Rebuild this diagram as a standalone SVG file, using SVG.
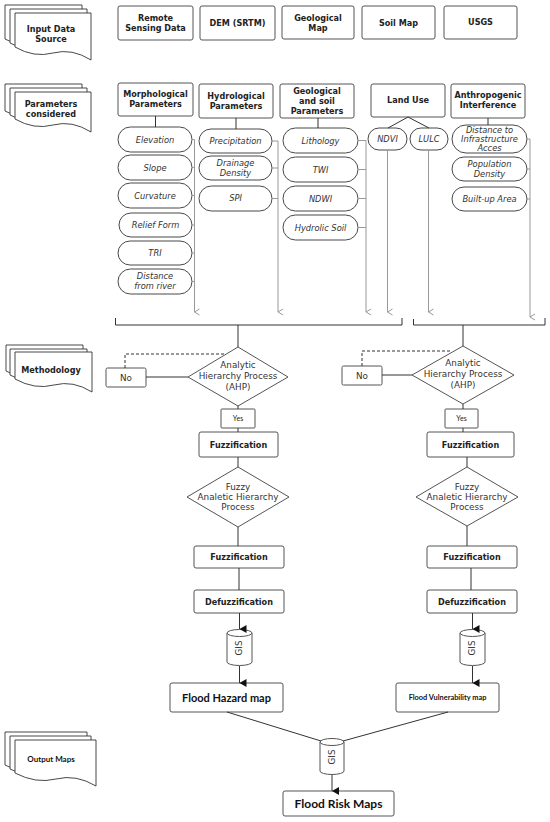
<svg xmlns="http://www.w3.org/2000/svg" width="550" height="822" viewBox="0 0 550 822">
<style>
.bx{fill:#fff;stroke:#555;stroke-width:1}
.pill{fill:#fff;stroke:#333;stroke-width:0.9}
.doc{fill:#fff;stroke:#333;stroke-width:0.9}
.h{font-family:"DejaVu Sans",sans-serif;font-weight:bold;font-size:8.1px;fill:#222;text-anchor:middle}
.it{font-family:"DejaVu Sans",sans-serif;font-style:italic;font-size:8.3px;fill:#333;text-anchor:middle}
.rg{font-family:"DejaVu Sans",sans-serif;font-size:8.8px;fill:#333;text-anchor:middle}
.cb{font-family:Lato,"Liberation Sans",sans-serif;font-weight:bold;fill:#111;text-anchor:middle}
.cl{font-family:Lato,"Liberation Sans",sans-serif;font-size:7px;fill:#222;text-anchor:middle}
.g{stroke:#999;stroke-width:1;fill:none}
.k{stroke:#333;stroke-width:1;fill:none}
.dash{stroke:#333;stroke-width:1;fill:none;stroke-dasharray:3,2}
</style>
<defs>
<marker id="ag" markerWidth="8" markerHeight="8" refX="4" refY="6" orient="auto" markerUnits="userSpaceOnUse" viewBox="0 0 8 8"><path d="M1,1 L4,6 L7,1" fill="none" stroke="#999" stroke-width="1"/></marker>
<marker id="ak" markerWidth="10" markerHeight="10" refX="4.5" refY="8" orient="auto-start-reverse" markerUnits="userSpaceOnUse" viewBox="0 0 10 10"><path d="M0.5,1 L4.5,8 L8.5,1 Z" fill="#111"/></marker>
</defs>
<rect width="550" height="822" fill="#fff"/>

<!-- side documents -->
<g id="doc-input">
<path class="doc" d="M5,5 H82 V52 Q63,40 44,45 T5,39 Z"/>
<path class="doc" d="M10,9 H87 V56 Q68,44 49,49 T10,43 Z"/>
<path class="doc" d="M15,13 H91 V60 Q72,48 53,53 T15,47 Z"/>
<text class="h" x="51" y="32">Input Data</text>
<text class="h" x="51" y="42">Source</text>
</g>
<g id="doc-params">
<path class="doc" d="M5,84 H82 V124 Q63,112 44,117 T5,111 Z"/>
<path class="doc" d="M10,88 H87 V128 Q68,116 49,121 T10,115 Z"/>
<path class="doc" d="M15,92 H91 V132 Q72,120 53,125 T15,119 Z"/>
<text class="h" x="51" y="107">Parameters</text>
<text class="h" x="51" y="117">considered</text>
</g>
<g id="doc-method">
<path class="doc" d="M6,345 H83 V384 Q64,372 45,377 T6,371 Z"/>
<path class="doc" d="M10,349 H87 V388 Q68,376 49,381 T10,375 Z"/>
<path class="doc" d="M15,352 H92 V392 Q73,380 54,385 T15,379 Z"/>
<text class="h" x="51" y="373">Methodology</text>
</g>
<g id="doc-output">
<path class="doc" d="M5,732 H87 V778 Q67,766 46,771 T5,765 Z"/>
<path class="doc" d="M10,736 H91 V782 Q71,770 51,775 T10,769 Z"/>
<path class="doc" d="M15,740 H96 V786 Q76,774 56,779 T15,773 Z"/>
<text class="cb" x="51" y="762" font-size="8">Output Maps</text>
</g>

<!-- sources -->
<g id="src-rs"><rect class="bx" x="118" y="6" width="75" height="34" rx="2"/><text class="h" x="155.5" y="21">Remote</text><text class="h" x="155.5" y="31">Sensing Data</text></g>
<g id="src-dem"><rect class="bx" x="200" y="6" width="75" height="34" rx="2"/><text class="h" x="237.5" y="26">DEM (SRTM)</text></g>
<g id="src-geo"><rect class="bx" x="282" y="6" width="72" height="33" rx="2"/><text class="h" x="318" y="21">Geological</text><text class="h" x="318" y="31">Map</text></g>
<g id="src-soil"><rect class="bx" x="362" y="6" width="73" height="33" rx="2"/><text class="h" x="398.5" y="26">Soil Map</text></g>
<g id="src-usgs"><rect class="bx" x="444" y="6" width="73" height="33" rx="2"/><text class="h" x="480.5" y="25">USGS</text></g>

<!-- parameter categories -->
<g id="cat-morph"><rect class="bx" x="118" y="83" width="75" height="33" rx="2"/><text class="h" x="155.5" y="97">Morphological</text><text class="h" x="155.5" y="107">Parameters</text></g>
<g id="cat-hydro"><rect class="bx" x="199" y="84" width="74" height="34" rx="2"/><text class="h" x="236" y="99">Hydrological</text><text class="h" x="236" y="109">Parameters</text></g>
<g id="cat-geo"><rect class="bx" x="280" y="84" width="74" height="34" rx="2"/><text class="h" x="317" y="94">Geological</text><text class="h" x="317" y="104">and soil</text><text class="h" x="317" y="114">Parameters</text></g>
<g id="cat-landuse"><rect class="bx" x="371" y="84" width="74" height="33" rx="2"/><text class="h" x="408" y="103">Land Use</text></g>
<g id="cat-anthro"><rect class="bx" x="451" y="84" width="74" height="34" rx="2"/><text class="h" x="488" y="98">Anthropogenic</text><text class="h" x="488" y="108">Interference</text></g>

<!-- pills -->
<g id="p-elev"><rect class="pill" x="118" y="127" width="74" height="25" rx="12.5"/><text class="it" x="155" y="142.5">Elevation</text></g>
<g id="p-slope"><rect class="pill" x="118" y="155" width="74" height="25" rx="12.5"/><text class="it" x="155" y="170.5">Slope</text></g>
<g id="p-curv"><rect class="pill" x="118" y="183" width="74" height="25" rx="12.5"/><text class="it" x="155" y="198.5">Curvature</text></g>
<g id="p-relief"><rect class="pill" x="119" y="213" width="73" height="24" rx="12"/><text class="it" x="155.5" y="227.5">Relief Form</text></g>
<g id="p-tri"><rect class="pill" x="118" y="241" width="74" height="24" rx="12"/><text class="it" x="155" y="255.5">TRI</text></g>
<g id="p-dist"><rect class="pill" x="118" y="269" width="74" height="25" rx="12.5"/><text class="it" x="155" y="279">Distance</text><text class="it" x="155" y="289">from river</text></g>

<g id="p-precip"><rect class="pill" x="199" y="129" width="73" height="24" rx="12"/><text class="it" x="235.5" y="143.5">Precipitation</text></g>
<g id="p-drain"><rect class="pill" x="199" y="156" width="73" height="24" rx="12"/><text class="it" x="235.5" y="166">Drainage</text><text class="it" x="235.5" y="176">Density</text></g>
<g id="p-spi"><rect class="pill" x="199" y="186" width="73" height="25" rx="12.5"/><text class="it" x="235.5" y="201">SPI</text></g>

<g id="p-lith"><rect class="pill" x="283" y="128" width="75" height="25" rx="12.5"/><text class="it" x="320.5" y="143.5">Lithology</text></g>
<g id="p-twi"><rect class="pill" x="283" y="157" width="75" height="25" rx="12.5"/><text class="it" x="320.5" y="172.5">TWI</text></g>
<g id="p-ndwi"><rect class="pill" x="283" y="186" width="75" height="25" rx="12.5"/><text class="it" x="320.5" y="201.5">NDWI</text></g>
<g id="p-hsoil"><rect class="pill" x="283" y="215" width="75" height="25" rx="12.5"/><text class="it" x="320.5" y="230.5">Hydrolic Soil</text></g>

<g id="p-ndvi"><rect class="pill" x="368" y="128" width="39" height="22" rx="11"/><text class="it" x="387.5" y="142">NDVI</text></g>
<g id="p-lulc"><rect class="pill" x="410" y="128" width="38" height="22" rx="11"/><text class="it" x="429" y="142">LULC</text></g>

<g id="p-infra"><rect class="pill" x="452" y="125" width="75" height="28" rx="14"/><text class="it" x="489.5" y="133">Distance to</text><text class="it" x="489.5" y="142">Infrastructure</text><text class="it" x="489.5" y="151">Acces</text></g>
<g id="p-pop"><rect class="pill" x="452" y="157" width="75" height="24" rx="12"/><text class="it" x="489.5" y="166.5">Population</text><text class="it" x="489.5" y="176.5">Density</text></g>
<g id="p-built"><rect class="pill" x="452" y="187" width="75" height="24" rx="12"/><text class="it" x="489.5" y="201.5">Built-up Area</text></g>

<!-- methodology left -->
<g id="ahp-l"><path class="bx" d="M238,347 L288,377 L238,406 L188,377 Z"/><text class="rg" x="238" y="368">Analytic</text><text class="rg" x="238" y="379">Hierarchy Process</text><text class="rg" x="238" y="390">(AHP)</text></g>
<g id="no-l"><rect class="bx" x="106" y="368" width="40" height="19" rx="1.5"/><text class="rg" x="126" y="380.5" font-size="8">No</text></g>
<g id="yes-l"><rect class="bx" x="221" y="409" width="34" height="19" rx="1"/><text class="cl" x="238" y="421">Yes</text></g>
<g id="fuzz1-l"><rect class="bx" x="199" y="432" width="79" height="25" rx="2"/><text class="h" x="238.5" y="447.5">Fuzzification</text></g>
<g id="fahp-l"><path class="bx" d="M238,467 L289,497 L238,527 L187,497 Z"/><text class="rg" x="238" y="490">Fuzzy</text><text class="rg" x="238" y="500">Analetic Hierarchy</text><text class="rg" x="238" y="510">Process</text></g>
<g id="fuzz2-l"><rect class="bx" x="194" y="546" width="90" height="22" rx="2"/><text class="h" x="239" y="560">Fuzzification</text></g>
<g id="defuzz-l"><rect class="bx" x="194" y="590" width="90" height="23" rx="2"/><text class="h" x="239" y="604.5">Defuzzification</text></g>
<g id="gis-l"><path class="bx" d="M227,633 V662 A12.5,3.5 0 0 0 252,662 V633"/><ellipse class="bx" cx="239.5" cy="633" rx="12.5" ry="3.5"/><text class="rg" font-size="7" transform="translate(242,648) rotate(-90)">GIS</text></g>

<!-- methodology right -->
<g id="ahp-r"><path class="bx" d="M463,346 L514,375 L463,404 L412,375 Z"/><text class="rg" x="463" y="366">Analytic</text><text class="rg" x="463" y="377">Hierarchy Process</text><text class="rg" x="463" y="388">(AHP)</text></g>
<g id="no-r"><rect class="bx" x="342" y="366" width="40" height="19" rx="1.5"/><text class="rg" x="362" y="378.5" font-size="8">No</text></g>
<g id="yes-r"><rect class="bx" x="445" y="409" width="33" height="19" rx="1"/><text class="cl" x="461.5" y="421">Yes</text></g>
<g id="fuzz1-r"><rect class="bx" x="427" y="432" width="87" height="25" rx="2"/><text class="h" x="470.5" y="447.5">Fuzzification</text></g>
<g id="fahp-r"><path class="bx" d="M467,467 L518,497 L467,526 L416,497 Z"/><text class="rg" x="467" y="490">Fuzzy</text><text class="rg" x="467" y="500">Analetic Hierarchy</text><text class="rg" x="467" y="510">Process</text></g>
<g id="fuzz2-r"><rect class="bx" x="427" y="546" width="90" height="22" rx="2"/><text class="h" x="472" y="560">Fuzzification</text></g>
<g id="defuzz-r"><rect class="bx" x="427" y="590" width="90" height="23" rx="2"/><text class="h" x="472" y="604.5">Defuzzification</text></g>
<g id="gis-r"><path class="bx" d="M460,633 V662 A12.5,3.5 0 0 0 485,662 V633"/><ellipse class="bx" cx="472.5" cy="633" rx="12.5" ry="3.5"/><text class="rg" font-size="7" transform="translate(475,648) rotate(-90)">GIS</text></g>

<!-- outputs -->
<g id="hazard"><rect class="bx" x="170" y="683" width="113" height="29" rx="2"/><text class="cb" x="226.5" y="701.5" font-size="11">Flood Hazard map</text></g>
<g id="vuln"><rect class="bx" x="396" y="683" width="103" height="29" rx="2"/><text class="cb" x="447.5" y="700" font-size="7.4">Flood Vulnerability map</text></g>
<g id="gis-c"><path class="bx" d="M320,742 V771 A12,3.5 0 0 0 344,771 V742"/><ellipse class="bx" cx="332" cy="742" rx="12" ry="3.5"/><text class="rg" font-size="7" transform="translate(334.5,757) rotate(-90)">GIS</text></g>
<g id="risk"><rect class="bx" x="283" y="791" width="111" height="25" rx="2"/><text class="cb" x="338.5" y="808" font-size="12">Flood Risk Maps</text></g>

<!-- connectors -->
<g id="connectors">
<path class="k" d="M155.5,116 V127 M236,118 V129 M318,118 V128 M488,118 V125"/>
<path class="k" d="M408,117 L388,128 M408,117 L429,128"/>
<path class="g" d="M192,139.5 H194.5 M192,167.5 H194.5 M192,195.5 H194.5 M192,225 H194.5 M192,253 H194.5 M192,281.5 H194.5"/>
<path class="g" d="M194.5,139.5 V312" marker-end="url(#ag)"/>
<path class="g" d="M272,141 H278 M272,168 H278 M272,198.5 H278"/>
<path class="g" d="M278,141 V312" marker-end="url(#ag)"/>
<path class="g" d="M358,140.5 H366 M358,169.5 H366 M358,198.5 H366 M358,227.5 H366"/>
<path class="g" d="M366,140.5 V312" marker-end="url(#ag)"/>
<path class="g" d="M387.5,150 V312" marker-end="url(#ag)"/>
<path class="g" d="M428.5,150 V312" marker-end="url(#ag)"/>
<path class="g" d="M527,139 H530 M527,169 H530 M527,199 H530"/>
<path class="g" d="M530,139 V317" marker-end="url(#ag)"/>
<path class="k" d="M115.5,318 V325 H402 V318"/>
<path class="k" d="M413.5,319 V325 H545 V318"/>
<path class="k" d="M238,325 V347"/>
<path class="k" d="M146,377 H188"/>
<path class="dash" d="M125,368 V354 H226"/>
<path class="k" d="M238,406 V409 M238,428 V432 M238,457 V467 M238,527 V546 M239,568 V590"/>
<path class="k" d="M239.5,613 V629" marker-end="url(#ak)"/>
<path class="k" d="M239.5,666 V683" marker-end="url(#ak)"/>
<path class="k" d="M463,325 V346"/>
<path class="k" d="M382,375 H412"/>
<path class="dash" d="M362,366 V351 H451"/>
<path class="k" d="M463,404 V409 M463,428 V432 M467,457 V467 M467,526 V546 M471,568 V590"/>
<path class="k" d="M472.5,613 V629" marker-end="url(#ak)"/>
<path class="k" d="M472.5,666 V683" marker-end="url(#ak)"/>
<path class="k" d="M227,712 L321,741 M448,712 L343,741"/>
<path class="k" d="M332,775 V791" marker-end="url(#ak)"/>
</g>
</svg>
